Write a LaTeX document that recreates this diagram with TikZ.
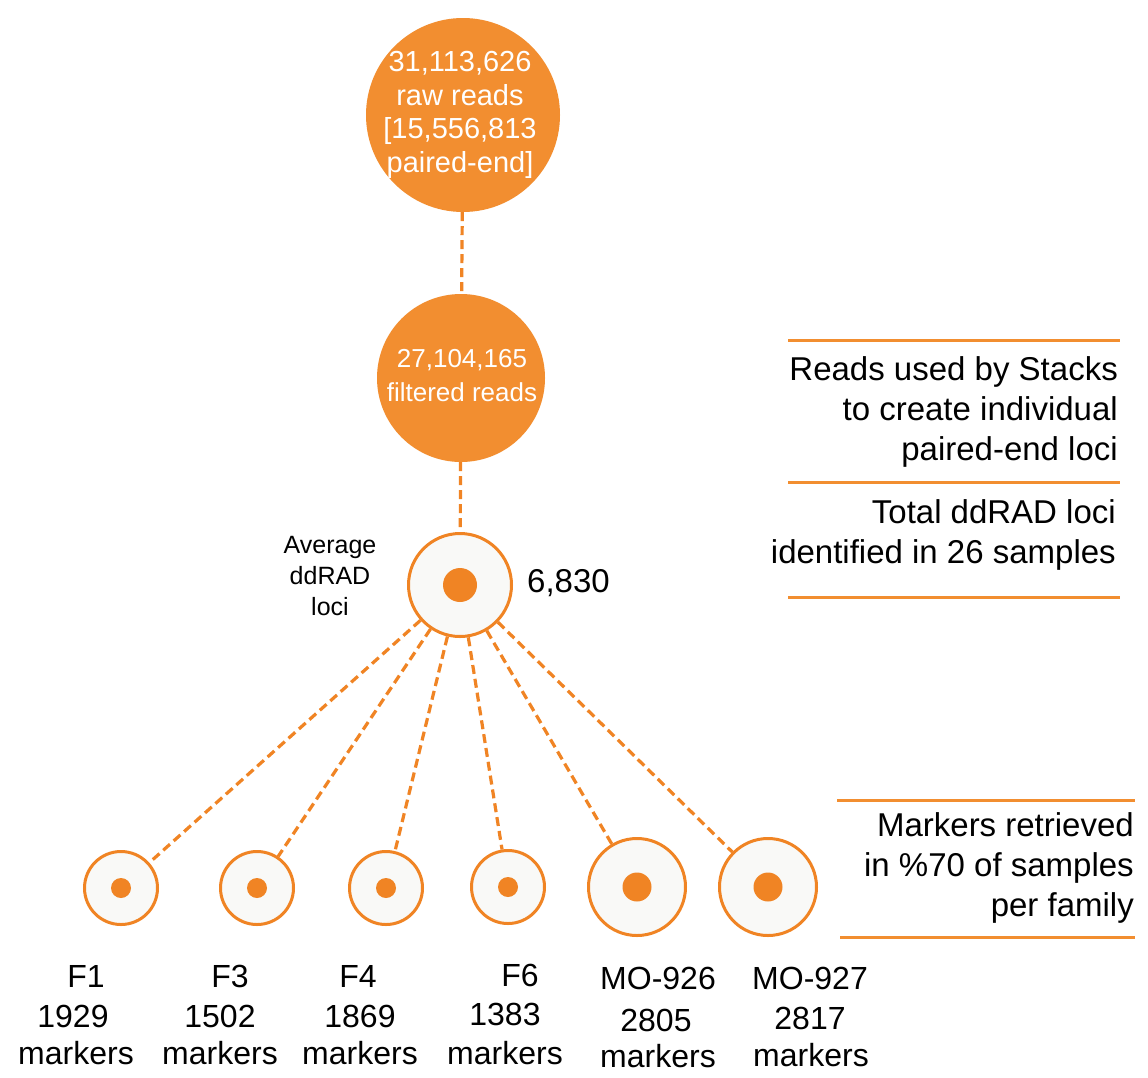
\documentclass[tikz,border=0pt]{standalone}
\usepackage{fontspec}
\setmainfont{Liberation Sans}
\definecolor{org}{RGB}{242,142,48}
\definecolor{orgline}{RGB}{240,132,36}
\definecolor{ringfill}{RGB}{249,249,247}
\begin{document}
\begin{tikzpicture}[x=1pt,y=-1pt,
  bigdisc/.style={circle, fill=org, draw=none, inner sep=0pt},
  disctext/.style={text=white, align=center, inner sep=0pt},
  ring/.style={circle, draw=orgline, line width=3pt, fill=ringfill, inner sep=0pt},
  dot/.style={circle, fill=orgline, draw=none, inner sep=0pt},
  link/.style={draw=orgline, line width=3.2pt, dash pattern=on 9pt off 5pt},
  rule/.style={draw=org, line width=3pt},
  lbl/.style={font=\fontsize{32}{38}\selectfont, anchor=base, inner sep=0pt},
  note/.style={font=\fontsize{33}{40}\selectfont, align=right, anchor=east, inner sep=0pt}]
\useasboundingbox[fill=white] (0,0) rectangle (1148,1077);

% main discs
\node[bigdisc, minimum size=194pt] (raw) at (463,115) {};
\node[disctext, font=\fontsize{29}{33.5}\selectfont] (rawtxt) at (460,115)
  {31,113,626\\raw reads\\{[}15,556,813\\paired-end]};
\node[bigdisc, minimum size=168pt] (filt) at (461,378) {};
\node[disctext, font=\fontsize{26}{34}\selectfont] (filttxt) at (462,376)
  {27,104,165\\filtered reads};

% average ring
\node[ring, minimum size=103pt] (avg) at (460,585) {};
\node[dot, minimum size=34pt] (avgdot) at (avg.center) {};
\node[font=\fontsize{33}{40}\selectfont, anchor=west, inner sep=0pt] (avgnum) at (527,583) {6,830};
\node[font=\fontsize{25}{31}\selectfont, align=center, inner sep=0pt] (avglbl) at (330,576) {Average\\ddRAD\\loci};

% family rings
\node[ring, minimum size=73pt] (f1) at (121,888) {};
\node[ring, minimum size=73pt] (f3) at (257,888) {};
\node[ring, minimum size=73pt] (f4) at (386,888) {};
\node[ring, minimum size=73pt] (f6) at (508,887) {};
\node[ring, minimum size=97pt] (mo926) at (637,887) {};
\node[ring, minimum size=97pt] (mo927) at (768,887) {};
\foreach \n in {f1,f3,f4,f6} \node[dot, minimum size=20pt] (\n dot) at (\n.center) {};
\foreach \n in {mo926,mo927} \node[dot, minimum size=29pt] (\n dot) at (\n.center) {};

% connectors
\draw[link] (raw) -- (filt);
\draw[link] (filt) -- (avg);
\foreach \n in {f1,f3,f4,f6,mo926,mo927} \draw[link] (avg) -- (\n);

% right-hand notes
\draw[rule] (788,340) -- (1120,340);
\draw[rule] (788,482) -- (1120,482);
\draw[rule] (788,597) -- (1120,597);
\draw[rule] (837,800) -- (1135,800);
\draw[rule] (840,937) -- (1135,937);
\node[note] (n1) at (1118,412) {Reads used by Stacks\\to create individual\\paired-end loci};
\node[note] (n2) at (1116,535) {Total ddRAD loci\\identified in 26 samples};
\node[note] (n3) at (1134,868) {Markers retrieved\\in \%70 of samples\\per family};

% bottom labels
\node[lbl] (l1a) at (86,987) {F1};
\node[lbl] (l1b) at (73,1027) {1929};
\node[lbl] (l1c) at (76,1064) {markers};
\node[lbl] (l3a) at (230,987) {F3};
\node[lbl] (l3b) at (220,1027) {1502};
\node[lbl] (l3c) at (220,1064) {markers};
\node[lbl] (l4a) at (358,987) {F4};
\node[lbl] (l4b) at (360,1027) {1869};
\node[lbl] (l4c) at (360,1064) {markers};
\node[lbl] (l6a) at (520,986) {F6};
\node[lbl] (l6b) at (505,1025) {1383};
\node[lbl] (l6c) at (505,1064) {markers};
\node[lbl] (l7a) at (658,989) {MO-926};
\node[lbl] (l7b) at (656,1031) {2805};
\node[lbl] (l7c) at (658,1067) {markers};
\node[lbl] (l8a) at (810,989) {MO-927};
\node[lbl] (l8b) at (810,1029) {2817};
\node[lbl] (l8c) at (811,1066) {markers};
\end{tikzpicture}
\end{document}
